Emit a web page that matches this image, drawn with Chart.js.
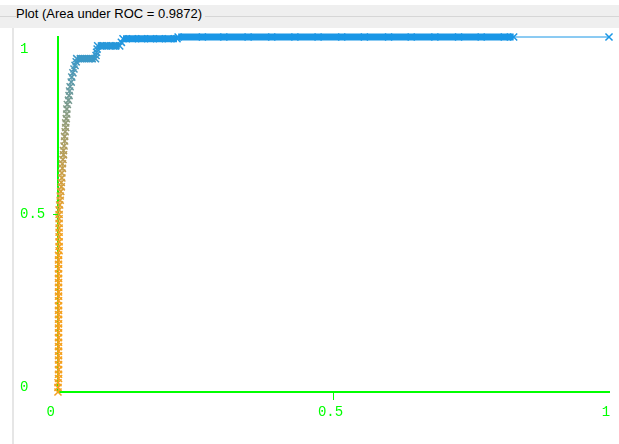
<!DOCTYPE html>
<html lang="en">
<head>
<meta charset="utf-8">
<script src="https://cdn.jsdelivr.net/npm/chart.js@4.4.0/dist/chart.umd.min.js"></script>
<style>
    html, body { margin: 0; padding: 0; background: #fff; }
    #frame { position: relative; width: 619px; height: 444px; overflow: hidden; }
    #head { position: absolute; left: 0; top: 5px; width: 619px; height: 23px; background: #efefef; }
    #rule { position: absolute; left: 0; top: 11px; width: 619px; height: 1px; background: #d6d6d6; }
    #title { position: absolute; left: 16px; top: 6px; padding-right: 3px; background: #efefef;
             font: 13px "Liberation Sans", Arial, sans-serif; color: #000; }
    #edge { position: absolute; left: 12px; top: 28px; width: 2px; height: 416px; background: #e6e6e6; }
    canvas { position: absolute; left: 0; top: 0; }
</style>
</head>
<body>
<div id="frame">
    <div id="head"><div id="rule"></div></div>
    <div id="title">Plot (Area under ROC = 0.9872)</div>
    <div id="edge"></div>
    <canvas id="roc" width="619" height="444"></canvas>
</div>
<script>
    // threshold curve: false positive rate / true positive rate
    var fpr = [
        0, 0, 0, 0.001, 0.001, 0.001, 0.001, 0.001, 0.001, 0.001,
        0.001, 0.001, 0.001, 0.001, 0.001, 0.001, 0.001, 0.001, 0.001, 0.001,
        0.001, 0.001, 0.001, 0.001, 0.001, 0.001, 0.001, 0.001, 0.001, 0.001,
        0.001, 0.002, 0.002, 0.002, 0.002, 0.002, 0.002, 0.002, 0.002, 0.002,
        0.002, 0.003, 0.004,
        0.004, 0.005, 0.006, 0.006, 0.007, 0.007, 0.008, 0.008, 0.009, 0.010,
        0.010, 0.011, 0.012, 0.012, 0.013, 0.014, 0.014, 0.015, 0.016, 0.016,
        0.017, 0.019, 0.020, 0.021, 0.022, 0.024, 0.025, 0.027, 0.029, 0.031,
        0.033, 0.034,
        0.041, 0.048, 0.055, 0.062, 0.068,
        0.069, 0.070, 0.071, 0.072,
        0.080, 0.088, 0.096, 0.104, 0.112,
        0.115, 0.118,
        0.135, 0.152, 0.168, 0.184, 0.200, 0.216,
        0.218,
        0.262, 0.301, 0.345, 0.388, 0.430, 0.472, 0.515, 0.556, 0.600, 0.641,
        0.684, 0.727, 0.768, 0.810, 0.827,
        1
    ];
    var tpr = [
        0, 0.013, 0.026, 0.038, 0.050, 0.063, 0.077, 0.090, 0.102, 0.115,
        0.128, 0.140, 0.153, 0.167, 0.180, 0.192, 0.205, 0.218, 0.230, 0.243,
        0.257, 0.270, 0.282, 0.295, 0.308, 0.320, 0.333, 0.347, 0.360, 0.372,
        0.385, 0.398, 0.410, 0.423, 0.437, 0.450, 0.462, 0.475, 0.488, 0.500,
        0.513, 0.527, 0.540,
        0.552, 0.565, 0.578, 0.590, 0.603, 0.617, 0.630, 0.643, 0.655, 0.668,
        0.680, 0.693, 0.707, 0.720, 0.733, 0.745, 0.758, 0.770, 0.783, 0.797,
        0.810, 0.822, 0.835, 0.848, 0.860, 0.873, 0.887, 0.899, 0.910, 0.920,
        0.930, 0.939,
        0.939, 0.939, 0.939, 0.939, 0.939,
        0.948, 0.957, 0.966, 0.975,
        0.975, 0.975, 0.975, 0.975, 0.975,
        0.985, 0.995,
        0.995, 0.995, 0.995, 0.995, 0.995, 0.995,
        1,
        1, 1, 1, 1, 1, 1, 1, 1, 1, 1,
        1, 1, 1, 1, 1,
        1
    ];
    var xTicks = [0, 0.5, 1];
    var xTickLabels = ['0', '0.5', '1'];
    var yTicks = [0, 0.5, 1];
    var yTickLabels = ['0', '0.5', '1'];

    var green = '#00ff00';
    var lowColor = [245, 160, 30];
    var highColor = [25, 150, 230];

    // points shade from orange to blue as the curve climbs
    function shade(v) {
        var t = Math.pow(Math.min(1, Math.max(0, (v - 0.42) / 0.58)), 1.5);
        var c = lowColor.map(function (o, k) { return Math.round(o + (highColor[k] - o) * t); });
        return 'rgb(' + c.join(',') + ')';
    }

    var points = fpr.map(function (x, i) { return { x: x, y: tpr[i] }; });

    // tick labels drawn the way the old plot panel places them
    var axisLabels = {
        id: 'axisLabels',
        afterDraw: function (chart) {
            var ctx = chart.ctx, xs = chart.scales.x, ys = chart.scales.y;
            ctx.save();
            ctx.font = '14px "Liberation Mono", monospace';
            ctx.fillStyle = green;
            ctx.textBaseline = 'middle';
            xTicks.forEach(function (v, i) {
                var px = xs.getPixelForValue(v);
                ctx.textAlign = v === xs.min ? 'right' : 'center';
                ctx.fillText(xTickLabels[i], px - 3, xs.bottom + 12);
            });
            ctx.textAlign = 'left';
            yTicks.forEach(function (v, i) {
                var py = ys.getPixelForValue(v);
                if (v === ys.max) py += 12;
                if (v === ys.min) py -= 5;
                ctx.fillText(yTickLabels[i], 20, py);
            });
            ctx.restore();
        }
    };

    new Chart(document.getElementById('roc').getContext('2d'), {
        type: 'scatter',
        data: {
            datasets: [{
                data: points,
                showLine: true,
                borderWidth: 1,
                clip: false,
                pointStyle: 'crossRot',
                pointRadius: 5,
                pointBorderWidth: 1.5,
                pointBorderColor: function (c) { return c.raw ? shade(c.raw.y) : shade(1); },
                pointBackgroundColor: 'transparent',
                segment: {
                    borderColor: function (c) { return shade(c.p1.parsed.y); },
                    // dense runs of points along a level read as a solid bar
                    borderWidth: function (c) {
                        return c.p0.parsed.y === c.p1.parsed.y && c.p1DataIndex < fpr.length - 1 ? 7 : 1;
                    }
                }
            }]
        },
        options: {
            responsive: false,
            animation: false,
            layout: { padding: { left: 53, right: 10, top: 37, bottom: 44 } },
            plugins: { legend: { display: false }, tooltip: { enabled: false } },
            events: [],
            scales: {
                x: {
                    type: 'linear', min: 0, max: 1,
                    afterBuildTicks: function (a) { a.ticks = xTicks.map(function (v) { return { value: v }; }); },
                    ticks: { display: false },
                    grid: {
                        drawOnChartArea: false, tickLength: 8, tickWidth: 1,
                        tickColor: function (c) { return c.tick && c.tick.value === 0.5 ? green : 'rgba(0,0,0,0)'; }
                    },
                    border: { color: green, width: 2 }
                },
                y: {
                    type: 'linear', min: 0, max: 1,
                    afterBuildTicks: function (a) { a.ticks = yTicks.map(function (v) { return { value: v }; }); },
                    ticks: { display: false },
                    grid: {
                        drawOnChartArea: false, tickLength: 5, tickWidth: 1,
                        tickColor: function (c) { return c.tick && c.tick.value === 0.5 ? green : 'rgba(0,0,0,0)'; }
                    },
                    border: { color: green, width: 2 }
                }
            }
        },
        plugins: [axisLabels]
    });
</script>
</body>
</html>
